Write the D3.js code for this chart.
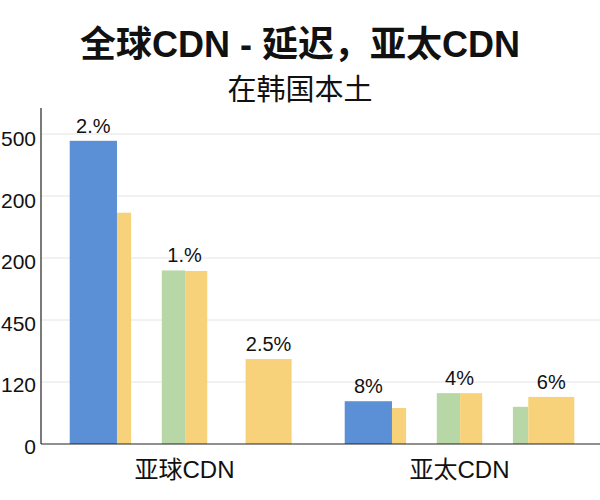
<!DOCTYPE html>
<html>
<head>
<meta charset="utf-8">
<script src="https://cdn.jsdelivr.net/npm/d3@7"></script>
<style>
  body { margin: 0; background: #fff; }
  text { font-family: "Liberation Sans", Arial, "Noto Sans CJK SC", sans-serif; fill: #111; }
</style>
</head>
<body>
<div id="chart"></div>
<script>
// Data (values in grid steps of the y axis)
const categories = ["亚球CDN", "亚太CDN"];
const yTickLabels = ["0", "120", "450", "200", "200", "500"];
const leadValues = [[4.89, 2.80, null], [0.69, 0.82, 0.60]];   // blue / green bars
const yellowValues = [[3.73, 2.79, 1.37], [0.58, 0.82, 0.76]];
const barLabels = [["2.%", "1.%", "2.5%"], ["8%", "4%", "6%"]];

// Layout / style
const leadColors = ["#5b8fd6", "#b7d7a6", "#b7d7a6"];
const yellowColor = "#f7d27b";
const leadShare = [0.77, 0.38, 0.25];    // fraction of slot band
const yellowShare = [0.23, 0.36, 0.75];

const W = 600, H = 500;
const margin = { left: 41, right: 0, top: 108, bottom: 56 };

const svg = d3.select("#chart").append("svg")
  .attr("width", W).attr("height", H);

svg.append("rect").attr("width", W).attr("height", H).attr("fill", "#fff");

// Scales
const y = d3.scaleLinear()
  .domain([0, yTickLabels.length - 1])
  .range([444, 134]);

const x0 = d3.scaleBand()
  .domain(categories)
  .range([47, 597]);

const x1 = d3.scaleBand()
  .domain([0, 1, 2])
  .range([0, x0.bandwidth()])
  .paddingInner(0.27)
  .paddingOuter(0.27);

// Gridlines
svg.append("g")
  .selectAll("line")
  .data(d3.range(1, yTickLabels.length))
  .join("line")
  .attr("x1", margin.left).attr("x2", W)
  .attr("y1", d => y(d)).attr("y2", d => y(d))
  .attr("stroke", "#e4e4e4")
  .attr("stroke-width", 1);

// Y axis
const yAxis = svg.append("g")
  .attr("transform", `translate(${margin.left},0)`)
  .call(d3.axisLeft(y)
    .tickValues(d3.range(yTickLabels.length))
    .tickFormat(i => yTickLabels[i])
    .tickSize(0)
    .tickPadding(5));
yAxis.select(".domain").remove();
yAxis.selectAll("text")
  .attr("font-size", 21)
  .attr("fill", "#111")
  .attr("dy", i => (0.45 + i * 0.02) + "em")
  .style("font-family", "'Liberation Sans', Arial, sans-serif");

svg.append("line")
  .attr("x1", margin.left).attr("x2", margin.left)
  .attr("y1", margin.top).attr("y2", y(0))
  .attr("stroke", "#222").attr("stroke-width", 1.2);

// Bars
const clusters = [];
categories.forEach((cat, g) => {
  [0, 1, 2].forEach(s => {
    const bw = x1.bandwidth();
    const parts = [];
    if (leadValues[g][s] != null) parts.push({ v: leadValues[g][s], w: bw * leadShare[s], c: leadColors[s] });
    if (yellowValues[g][s] != null) parts.push({ v: yellowValues[g][s], w: bw * yellowShare[s], c: yellowColor });
    const total = d3.sum(parts, p => p.w);
    let xs = x0(cat) + x1(s) + bw / 2 - total / 2;
    parts.forEach(p => { p.x = xs; xs += p.w; });
    clusters.push({ g, s, parts, label: barLabels[g][s] });
  });
});

const bars = clusters.flatMap(c => c.parts);
svg.append("g")
  .selectAll("rect")
  .data(bars)
  .join("rect")
  .attr("x", d => d.x)
  .attr("y", d => y(d.v))
  .attr("width", d => d.w)
  .attr("height", d => y(0) - y(d.v))
  .attr("fill", d => d.c);

// Value labels over the tallest bar of each cluster
svg.append("g")
  .selectAll("text")
  .data(clusters)
  .join("text")
  .attr("x", c => {
    const top = d3.max(c.parts, p => p.v);
    const tall = c.parts.filter(p => top - p.v < 0.05);
    if (tall.length > 1) return (c.parts[0].x + c.parts[c.parts.length - 1].x + c.parts[c.parts.length - 1].w) / 2;
    return tall[0].x + tall[0].w / 2;
  })
  .attr("y", c => y(d3.max(c.parts, p => p.v)) - 8)
  .attr("text-anchor", "middle")
  .attr("font-size", 20)
  .text(c => c.label);

// Baseline
svg.append("line")
  .attr("x1", margin.left).attr("x2", W)
  .attr("y1", y(0)).attr("y2", y(0))
  .attr("stroke", "#222").attr("stroke-width", 1.2);

// Category labels
svg.append("g")
  .selectAll("text")
  .data(categories)
  .join("text")
  .attr("x", d => x0(d) + x0.bandwidth() / 2)
  .attr("y", 478)
  .attr("text-anchor", "middle")
  .attr("font-size", 24)
  .text(d => d);

// Title
svg.append("text")
  .attr("x", W / 2).attr("y", 57)
  .attr("text-anchor", "middle")
  .attr("font-size", 36)
  .attr("font-weight", "bold")
  .text("全球CDN - 延迟，亚太CDN");

svg.append("text")
  .attr("x", W / 2).attr("y", 100)
  .attr("text-anchor", "middle")
  .attr("font-size", 29)
  .text("在韩国本土");
</script>
</body>
</html>
